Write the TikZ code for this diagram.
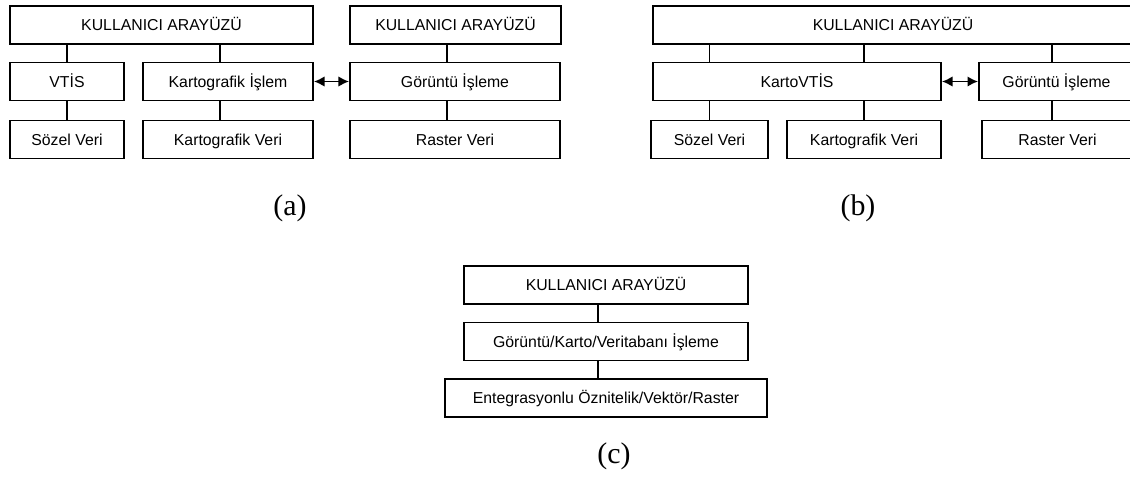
\documentclass[tikz,border=0pt]{standalone}
\usepackage{fontspec}
\setmainfont{Liberation Sans}
\newfontfamily\capfont{Liberation Serif}
\usetikzlibrary{arrows.meta, calc}

\begin{document}
\begin{tikzpicture}[x=0.02cm, y=-0.02cm,
    box/.style={draw, line width=1.1pt, minimum height=38*0.02cm, inner sep=0pt, text height=1.6ex, text depth=0.35ex, font=\fontsize{9}{11}\selectfont},
    link/.style={line width=1.1pt},
    both/.style={line width=1.1pt, {Latex[length=6pt,width=6pt]}-{Latex[length=6pt,width=6pt]}},
    caption/.style={font=\capfont\fontsize{17}{19}\selectfont}]
    \useasboundingbox (0,0) rectangle (1130,478);
    \clip (0,0) rectangle (1130,478);

    % (a)
    \node [box, minimum width=303*0.02cm] (uaA) at (161.5,25) {KULLANICI ARAYÜZÜ};
    \node [box, minimum width=114*0.02cm] (vtis) at (67,81.5) {VTİS};
    \node [box, minimum width=170*0.02cm] (kis) at (228,81.5) {Kartografik İşlem};
    \node [box, minimum width=114*0.02cm] (sozA) at (67,139.5) {Sözel Veri};
    \node [box, minimum width=170*0.02cm] (kvA) at (228,139.5) {Kartografik Veri};
    \node [box, minimum width=211*0.02cm] (uaR) at (455.5,25) {KULLANICI ARAYÜZÜ};
    \node [box, minimum width=210*0.02cm] (giA) at (455,81.5) {Görüntü İşleme};
    \node [box, minimum width=210*0.02cm] (rvA) at (455,139.5) {Raster Veri};
    \coordinate (kx) at (220,0);
    \coordinate (gx) at (447,0);
    \draw [link] (uaA.south -| vtis.north) -- (vtis.north);
    \draw [link] (vtis.south) -- (sozA.north);
    \draw [link] (uaA.south -| kx) -- (kis.north -| kx);
    \draw [link] (kis.south -| kx) -- (kvA.north -| kx);
    \draw [link] (uaR.south -| gx) -- (giA.north -| gx);
    \draw [link] (giA.south -| gx) -- (rvA.north -| gx);
    \draw [both] (kis.east) -- (giA.west);
    \node [caption] (capA) at (290,208) {(a)};

    % (b)
    \node [box, minimum width=480*0.02cm] (uaB) at (893,25) {KULLANICI ARAYÜZÜ};
    \node [box, minimum width=288*0.02cm] (kvtis) at (797,81.5) {KartoVTİS};
    \node [box, minimum width=155*0.02cm] (giB) at (1056.5,81.5) {Görüntü İşleme};
    \node [box, minimum width=117*0.02cm] (sozB) at (709.5,139.5) {Sözel Veri};
    \node [box, minimum width=154*0.02cm] (kvB) at (864,139.5) {Kartografik Veri};
    \node [box, minimum width=151*0.02cm] (rvB) at (1057.5,139.5) {Raster Veri};
    \draw [link] (uaB.south -| sozB.north) -- (kvtis.north -| sozB.north);
    \draw [link] (kvtis.south -| sozB.north) -- (sozB.north);
    \draw [link] (uaB.south -| kvB.north) -- (kvtis.north -| kvB.north);
    \draw [link] (kvtis.south -| kvB.north) -- (kvB.north);
    \coordinate (bx) at (1052,0);
    \draw [link] (uaB.south -| bx) -- (giB.north -| bx);
    \draw [link] (giB.south -| bx) -- (rvB.north -| bx);
    \draw [both] (kvtis.east) -- (giB.west);
    \node [caption] (capB) at (858,208) {(b)};

    % (c)
    \node [box, minimum width=284*0.02cm] (uaC) at (606,285) {KULLANICI ARAYÜZÜ};
    \node [box, minimum width=284*0.02cm] (gkv) at (606,341.5) {Görüntü/Karto/Veritabanı İşleme};
    \node [box, minimum width=322*0.02cm] (ent) at (606,398) {Entegrasyonlu Öznitelik/Vektör/Raster};
    \coordinate (cx) at (598,0);
    \draw [link] (uaC.south -| cx) -- (gkv.north -| cx);
    \draw [link] (gkv.south -| cx) -- (ent.north -| cx);
    \node [caption] (capC) at (614,456) {(c)};
\end{tikzpicture}
\end{document}
